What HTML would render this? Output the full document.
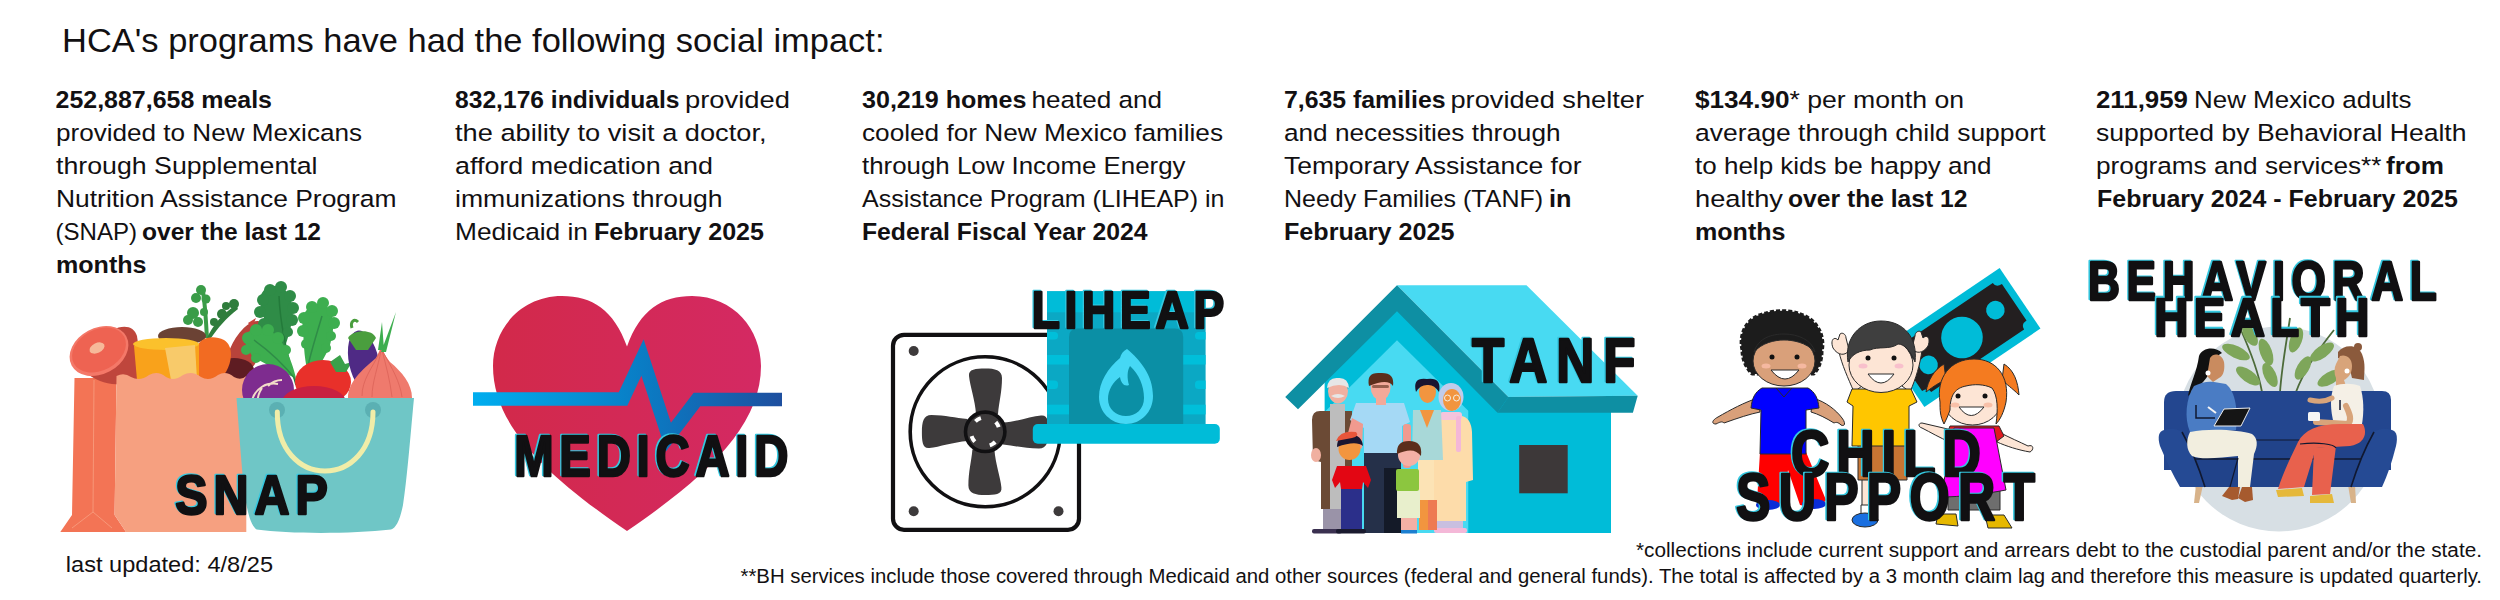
<!DOCTYPE html>
<html><head><meta charset="utf-8">
<style>
html,body{margin:0;padding:0;background:#fff;}
body{width:2500px;height:600px;overflow:hidden;position:relative;}
svg{position:absolute;left:0;top:0;display:block;}
text{font-family:"Liberation Sans",sans-serif;}
</style></head><body>
<svg width="2500" height="600" viewBox="0 0 2500 600">
<rect width="2500" height="600" fill="#fff"/>
<text x="62.0" y="52.0" font-size="33.5" font-weight="normal" textLength="822.5" lengthAdjust="spacingAndGlyphs" fill="#121012" >HCA's programs have had the following social impact:</text>
<text x="55.5" y="107.5" font-size="24.5" font-weight="bold" textLength="216.5" lengthAdjust="spacingAndGlyphs" fill="#121012" >252,887,658 meals</text>
<text x="56.0" y="140.5" font-size="24.5" font-weight="normal" textLength="306.0" lengthAdjust="spacingAndGlyphs" fill="#121012" >provided to New Mexicans</text>
<text x="56.0" y="173.5" font-size="24.5" font-weight="normal" textLength="261.5" lengthAdjust="spacingAndGlyphs" fill="#121012" >through Supplemental</text>
<text x="56.0" y="206.5" font-size="24.5" font-weight="normal" textLength="340.5" lengthAdjust="spacingAndGlyphs" fill="#121012" >Nutrition Assistance Program</text>
<text x="55.5" y="239.5" font-size="24.5" font-weight="normal" textLength="81.5" lengthAdjust="spacingAndGlyphs" fill="#121012" >(SNAP)</text>
<text x="142.0" y="239.5" font-size="24.5" font-weight="bold" textLength="179.0" lengthAdjust="spacingAndGlyphs" fill="#121012" >over the last 12</text>
<text x="56.0" y="272.5" font-size="24.5" font-weight="bold" textLength="90.5" lengthAdjust="spacingAndGlyphs" fill="#121012" >months</text>
<text x="455.0" y="107.5" font-size="24.5" font-weight="bold" textLength="224.5" lengthAdjust="spacingAndGlyphs" fill="#121012" >832,176 individuals</text>
<text x="685.0" y="107.5" font-size="24.5" font-weight="normal" textLength="105.0" lengthAdjust="spacingAndGlyphs" fill="#121012" >provided</text>
<text x="455.0" y="140.5" font-size="24.5" font-weight="normal" textLength="311.5" lengthAdjust="spacingAndGlyphs" fill="#121012" >the ability to visit a doctor,</text>
<text x="455.0" y="173.5" font-size="24.5" font-weight="normal" textLength="258.0" lengthAdjust="spacingAndGlyphs" fill="#121012" >afford medication and</text>
<text x="455.0" y="206.5" font-size="24.5" font-weight="normal" textLength="267.5" lengthAdjust="spacingAndGlyphs" fill="#121012" >immunizations through</text>
<text x="455.0" y="239.5" font-size="24.5" font-weight="normal" textLength="133.0" lengthAdjust="spacingAndGlyphs" fill="#121012" >Medicaid in</text>
<text x="594.0" y="239.5" font-size="24.5" font-weight="bold" textLength="170.0" lengthAdjust="spacingAndGlyphs" fill="#121012" >February 2025</text>
<text x="862.0" y="107.5" font-size="24.5" font-weight="bold" textLength="164.5" lengthAdjust="spacingAndGlyphs" fill="#121012" >30,219 homes</text>
<text x="1031.5" y="107.5" font-size="24.5" font-weight="normal" textLength="130.5" lengthAdjust="spacingAndGlyphs" fill="#121012" >heated and</text>
<text x="862.0" y="140.5" font-size="24.5" font-weight="normal" textLength="361.0" lengthAdjust="spacingAndGlyphs" fill="#121012" >cooled for New Mexico families</text>
<text x="862.0" y="173.5" font-size="24.5" font-weight="normal" textLength="323.5" lengthAdjust="spacingAndGlyphs" fill="#121012" >through Low Income Energy</text>
<text x="862.0" y="206.5" font-size="24.5" font-weight="normal" textLength="362.5" lengthAdjust="spacingAndGlyphs" fill="#121012" >Assistance Program (LIHEAP) in</text>
<text x="862.0" y="239.5" font-size="24.5" font-weight="bold" textLength="285.5" lengthAdjust="spacingAndGlyphs" fill="#121012" >Federal Fiscal Year 2024</text>
<text x="1284.0" y="107.5" font-size="24.5" font-weight="bold" textLength="161.5" lengthAdjust="spacingAndGlyphs" fill="#121012" >7,635 families</text>
<text x="1450.5" y="107.5" font-size="24.5" font-weight="normal" textLength="193.5" lengthAdjust="spacingAndGlyphs" fill="#121012" >provided shelter</text>
<text x="1284.0" y="140.5" font-size="24.5" font-weight="normal" textLength="276.5" lengthAdjust="spacingAndGlyphs" fill="#121012" >and necessities through</text>
<text x="1284.0" y="173.5" font-size="24.5" font-weight="normal" textLength="297.5" lengthAdjust="spacingAndGlyphs" fill="#121012" >Temporary Assistance for</text>
<text x="1284.0" y="206.5" font-size="24.5" font-weight="normal" textLength="259.0" lengthAdjust="spacingAndGlyphs" fill="#121012" >Needy Families (TANF)</text>
<text x="1549.0" y="206.5" font-size="24.5" font-weight="bold" textLength="22.5" lengthAdjust="spacingAndGlyphs" fill="#121012" >in</text>
<text x="1284.0" y="239.5" font-size="24.5" font-weight="bold" textLength="170.5" lengthAdjust="spacingAndGlyphs" fill="#121012" >February 2025</text>
<text x="1695.0" y="107.5" font-size="24.5" font-weight="bold" textLength="94.5" lengthAdjust="spacingAndGlyphs" fill="#121012" >$134.90</text>
<text x="1789.5" y="107.5" font-size="24.5" font-weight="normal" textLength="174.5" lengthAdjust="spacingAndGlyphs" fill="#121012" >* per month on</text>
<text x="1695.0" y="140.5" font-size="24.5" font-weight="normal" textLength="350.5" lengthAdjust="spacingAndGlyphs" fill="#121012" >average through child support</text>
<text x="1695.0" y="173.5" font-size="24.5" font-weight="normal" textLength="296.5" lengthAdjust="spacingAndGlyphs" fill="#121012" >to help kids be happy and</text>
<text x="1695.0" y="206.5" font-size="24.5" font-weight="normal" textLength="88.0" lengthAdjust="spacingAndGlyphs" fill="#121012" >healthy</text>
<text x="1788.0" y="206.5" font-size="24.5" font-weight="bold" textLength="179.5" lengthAdjust="spacingAndGlyphs" fill="#121012" >over the last 12</text>
<text x="1695.0" y="239.5" font-size="24.5" font-weight="bold" textLength="90.5" lengthAdjust="spacingAndGlyphs" fill="#121012" >months</text>
<text x="2096.0" y="107.5" font-size="24.5" font-weight="bold" textLength="92.0" lengthAdjust="spacingAndGlyphs" fill="#121012" >211,959</text>
<text x="2194.0" y="107.5" font-size="24.5" font-weight="normal" textLength="217.5" lengthAdjust="spacingAndGlyphs" fill="#121012" >New Mexico adults</text>
<text x="2096.0" y="140.5" font-size="24.5" font-weight="normal" textLength="370.5" lengthAdjust="spacingAndGlyphs" fill="#121012" >supported by Behavioral Health</text>
<text x="2096.0" y="173.5" font-size="24.5" font-weight="normal" textLength="285.5" lengthAdjust="spacingAndGlyphs" fill="#121012" >programs and services**</text>
<text x="2386.0" y="173.5" font-size="24.5" font-weight="bold" textLength="58.0" lengthAdjust="spacingAndGlyphs" fill="#121012" >from</text>
<text x="2097.0" y="206.5" font-size="24.5" font-weight="bold" textLength="361.0" lengthAdjust="spacingAndGlyphs" fill="#121012" >February 2024 - February 2025</text>
<text x="65.8" y="572.0" font-size="22" font-weight="normal" textLength="207.2" lengthAdjust="spacingAndGlyphs" fill="#121012" >last updated: 4/8/25</text>
<text x="1636.0" y="556.8" font-size="19.5" font-weight="normal" textLength="846.0" lengthAdjust="spacingAndGlyphs" fill="#121012" >*collections include current support and arrears debt to the custodial parent and/or the state.</text>
<text x="740.5" y="583.0" font-size="19.5" font-weight="normal" textLength="1741.5" lengthAdjust="spacingAndGlyphs" fill="#121012" >**BH services include those covered through Medicaid and other sources (federal and general funds). The total is affected by a 3 month claim lag and therefore this measure is updated quarterly.</text>

<g id="snap">
  <!-- bag side -->
  <path d="M74.5,378 L116.5,378 L114.6,515 L126,532 L60.3,532 L72,515 Z" fill="#f37455"/>
  <path d="M94,380 L93,512 L72,528 M93,512 L112,528" stroke="#f8a082" stroke-width="0.8" fill="none"/>
  <!-- ham -->
  <path d="M112,330 C124,324 134,326 137,336 L142,372 C140,382 128,386 112,384 C100,382 92,378 86,372 Z" fill="#bf463c"/>
  <ellipse cx="99" cy="351" rx="31" ry="23" transform="rotate(-28 99 351)" fill="#f47868"/>
  <ellipse cx="99" cy="350" rx="28.5" ry="20.5" transform="rotate(-28 99 350)" fill="#ee6352"/>
  <ellipse cx="97" cy="348" rx="8" ry="5" transform="rotate(-25 97 348)" fill="#f6b99a"/>
  <!-- carrot leaves -->
  <g fill="#3a9c48">
    <path d="M205,338 C204,320 203,305 201,292 L205,291 C207,305 208,320 209,338 Z"/>
    <circle cx="201" cy="290" r="5"/><circle cx="196" cy="298" r="5"/><circle cx="206" cy="299" r="4.5"/>
    <circle cx="193" cy="313" r="6"/><circle cx="188" cy="320" r="5"/><circle cx="198" cy="322" r="5"/>
    <circle cx="204" cy="312" r="4"/>
  </g>
  <g fill="#2f7d3c">
    <path d="M207,338 C213,325 222,314 236,305 L238,309 C226,318 218,328 211,338 Z"/>
    <circle cx="234" cy="304" r="5"/><circle cx="226" cy="306" r="4"/><circle cx="222" cy="314" r="5"/><circle cx="214" cy="322" r="4"/>
  </g>
  <!-- sweet potato dark -->
  <ellipse cx="182" cy="336" rx="24" ry="9" fill="#6b4234"/>
  <!-- red sweet potato right -->
  <ellipse cx="246" cy="350" rx="15" ry="32" transform="rotate(28 246 350)" fill="#b8433b"/>
  <path d="M248,323 L256,318 L252,328 Z" fill="#c8413a"/>
  <ellipse cx="234" cy="370" rx="20" ry="12" fill="#5e1c22"/>
  <!-- carrot -->
  <path d="M196,350 C198,338 212,334 224,340 C234,346 232,362 226,372 L214,385 L196,380 C193,368 194,358 196,350 Z" fill="#f26b22"/>
  <!-- cheese -->
  <path d="M134,346 C150,338 185,336 199,344 L199,380 L137,380 Z" fill="#f9a21b"/>
  <ellipse cx="166" cy="344" rx="33" ry="6" fill="#fbc12c"/>
  <path d="M165,348 L195,345 L197,380 L171,380 Z" fill="#f8ca6a"/>
  <!-- bag front with wavy top -->
  <path d="M116.5,376 Q124,372 131,377 Q140,382 149,375 Q158,370 166,377 Q174,382 183,375 Q192,370 201,377 Q209,382 218,375 Q226,370 234,377 Q241,381 246.3,376 L246.3,532 L126,532 L114.6,515 Z" fill="#f6a080"/>
  <!-- basket leaves -->
  <g>
    <path d="M262,310 C255,290 270,283 280,287 C292,292 296,310 290,330 C286,345 282,355 279,365 C272,345 266,328 262,310 Z" fill="#2f8c47"/>
    <path d="M279,296 C280,320 284,345 296,385" stroke="#237a3a" stroke-width="1.5" fill="none"/>
    <path d="M303,330 C300,310 312,302 322,304 C334,308 336,325 330,345 C325,358 318,368 310,380 C304,362 304,345 303,330 Z" fill="#3dae4f"/>
    <path d="M322,316 C315,340 308,360 304,385" stroke="#2f8c47" stroke-width="1.5" fill="none"/>
    <path d="M246,345 C240,332 255,325 268,330 C282,336 290,355 296,378 C280,372 262,362 252,356 Z" fill="#3dae4f"/>
    <path d="M254,340 C268,350 282,362 296,380" stroke="#2f8c47" stroke-width="1.5" fill="none"/>
  </g>
  <g fill="#2f8c47">
    <circle cx="263" cy="300" r="6"/><circle cx="260" cy="312" r="6"/><circle cx="264" cy="324" r="6"/><circle cx="270" cy="290" r="6"/><circle cx="281" cy="287" r="6"/><circle cx="290" cy="296" r="6"/><circle cx="293" cy="308" r="6"/><circle cx="292" cy="320" r="6"/><circle cx="288" cy="332" r="5"/>
  </g>
  <g fill="#3dae4f">
    <circle cx="304" cy="318" r="6"/><circle cx="303" cy="331" r="6"/><circle cx="306" cy="344" r="5"/><circle cx="312" cy="307" r="6"/><circle cx="323" cy="303" r="6"/><circle cx="332" cy="311" r="6"/><circle cx="334" cy="323" r="6"/><circle cx="331" cy="336" r="5"/><circle cx="326" cy="348" r="5"/>
    <circle cx="248" cy="338" r="6"/><circle cx="256" cy="330" r="6"/><circle cx="268" cy="330" r="6"/><circle cx="278" cy="338" r="6"/><circle cx="286" cy="350" r="5"/><circle cx="246" cy="350" r="5"/><circle cx="256" cy="358" r="5"/>
  </g>
  <!-- cabbage -->
  <circle cx="268" cy="390" r="26" fill="#7e2c8f"/>
  <path d="M252,400 C256,388 266,382 278,384 M262,388 C258,394 257,400 258,405 M268,386 C272,382 276,380 282,380" stroke="#f2dcc8" stroke-width="2" fill="none"/>
  <!-- tomato -->
  <ellipse cx="323" cy="382" rx="28" ry="22" fill="#e8302a"/>
  <path d="M330,362 L340,355 L345,364 L352,362 L346,372 L336,372 Z" fill="#3aa04a"/>
  <!-- eggplant -->
  <ellipse cx="364" cy="362" rx="15" ry="32" transform="rotate(-12 364 362)" fill="#4f2a85"/>
  <path d="M348,338 C352,330 372,328 376,338 L368,350 L356,350 Z" fill="#4a9e3e"/>
  <path d="M352,328 C350,322 354,318 358,322" stroke="#4a9e3e" stroke-width="3" fill="none"/>
  <!-- beet -->
  <ellipse cx="314" cy="402" rx="32" ry="16" fill="#c91f40"/>
  <!-- onion -->
  <path d="M348,398 C348,382 362,370 376,358 C378,354 380,350 381,346 C383,352 386,357 390,362 C402,372 412,384 412,398 Z" fill="#ef7a6d"/>
  <path d="M362,396 C362,380 372,368 380,352 M372,397 C372,382 378,368 381,350 M392,397 C390,380 386,366 382,350 M402,397 C400,382 392,368 383,352" stroke="#e0675c" stroke-width="1" fill="none"/>
  <path d="M378,350 L382,322 L384,350 Z M381,352 L396,312 L386,352 Z" fill="#3dae4f"/>
  <!-- basket -->
  <path d="M236.5,398 L414,398 C410,440 407,480 403,505 C400,520 396,528 391,529.5 C350,534 290,534 256.7,529.5 C250,525 247,510 244,490 C241,460 239,430 236.5,398 Z" fill="#6fc6c6"/>
  <circle cx="277" cy="410" r="8" fill="#5bb0b3"/>
  <circle cx="373" cy="410" r="8" fill="#5bb0b3"/>
  <path d="M277.3,412 C277,450 300,471 325,471 C350,471 373,450 373,412" stroke="#f0eda8" stroke-width="5" fill="none" stroke-linecap="round"/>
</g>
<g id="medicaid">
  <defs>
    <linearGradient id="hg" x1="0" x2="1" y1="0" y2="0">
      <stop offset="0" stop-color="#d2294a"/><stop offset="1" stop-color="#d42963"/>
    </linearGradient>
    <linearGradient id="pg" x1="473" x2="782" y1="0" y2="0" gradientUnits="userSpaceOnUse">
      <stop offset="0" stop-color="#00aeef"/><stop offset="0.55" stop-color="#0a7cc4"/><stop offset="1" stop-color="#1e4f9f"/>
    </linearGradient>
  </defs>
  <path d="M627,346.5 C614,310 592,296 562,296 C520,296 493,330 493,366 C493,425 545,475 627,531 C709,475 761,425 761,366 C761,330 734,296 692,296 C662,296 640,310 627,346.5 Z" fill="url(#hg)"/>
  <path d="M473,399 L623,399 L642.5,357.5 L668.5,437 L697,399.5 L782,399.5" stroke="url(#pg)" stroke-width="13.5" fill="none" stroke-linejoin="miter" stroke-miterlimit="10"/>
</g>
<g id="liheap">
  <rect x="893" y="334.8" width="186" height="195" rx="11" fill="#fff" stroke="#111012" stroke-width="4.2"/>
  <circle cx="985.2" cy="431.8" r="75" fill="none" stroke="#111012" stroke-width="3.6"/>
  <g fill="#3d3a3b">
    <circle cx="913.7" cy="351" r="5"/><circle cx="913.7" cy="511.3" r="5"/><circle cx="1058.5" cy="511.3" r="5"/><circle cx="1058.5" cy="351" r="5"/>
  </g>
  <g fill="#3d3a3b">
    <path d="M976,414 C975,400 970,386 969,376 C968,369 976,368.5 985,368.5 C995,368.5 1002,370 1002,378 C1002,392 999,402 998,414 Z"/>
    <path d="M976,414 C975,400 970,386 969,376 C968,369 976,368.5 985,368.5 C995,368.5 1002,370 1002,378 C1002,392 999,402 998,414 Z" transform="rotate(90 985.2 431.8)"/>
    <path d="M976,414 C975,400 970,386 969,376 C968,369 976,368.5 985,368.5 C995,368.5 1002,370 1002,378 C1002,392 999,402 998,414 Z" transform="rotate(180 985.2 431.8)"/>
    <path d="M976,414 C975,400 970,386 969,376 C968,369 976,368.5 985,368.5 C995,368.5 1002,370 1002,378 C1002,392 999,402 998,414 Z" transform="rotate(270 985.2 431.8)"/>
  </g>
  <circle cx="985.2" cy="431.8" r="19.7" fill="#3d3a3b" stroke="#111012" stroke-width="3.6"/>
  <circle cx="985.2" cy="431.8" r="14.3" fill="none" stroke="#fff" stroke-width="4" stroke-dasharray="6.5 15.96" stroke-dashoffset="3.25" transform="rotate(-32 985.2 431.8)"/>
  <!-- fireplace -->
  <rect x="1047" y="291.3" width="158.6" height="134" fill="#0ba8c4"/>
  <rect x="1047" y="291.3" width="158.6" height="21" fill="#00bcd8"/>
  <clipPath id="fpc"><rect x="1047" y="291.3" width="158.6" height="134"/></clipPath>
  <g fill="#00bfda" clip-path="url(#fpc)">
    <rect x="1040" y="332" width="18" height="7.5" rx="3.5"/><rect x="1047" y="355" width="22" height="9.5"/><rect x="1040" y="380.5" width="18" height="8.5" rx="3.5"/><rect x="1047" y="404.7" width="22" height="9.7"/>
    <rect x="1195" y="332" width="18" height="7.5" rx="3.5"/><rect x="1183" y="355" width="23.6" height="9.5"/><rect x="1195" y="380.5" width="18" height="8.5" rx="3.5"/><rect x="1183" y="404.7" width="23.6" height="9.7"/>
  </g>
  <path d="M1069,425 L1069,337 Q1069,328.5 1077.5,328.5 L1174.7,328.5 Q1183.2,328.5 1183.2,337 L1183.2,425 Z" fill="#0b8fa5"/>
  <path d="M1127,349 C1140,360 1153,375 1153,396 C1153,412 1141,424 1126,424 C1111,424 1099,412 1099,397 C1099,382 1108,368 1120,358 C1121,354 1123,351 1127,349 Z" fill="#45d8f5"/>
  <path d="M1126,416 C1116,416 1108,409 1108,399 C1108,390 1113,382 1120,377 C1121,383 1124,387 1129,385 C1127,378 1127,371 1130,366 C1139,374 1144,386 1144,398 C1144,409 1136,416 1126,416 Z" fill="#0b8fa5"/>
  <rect x="1032.8" y="424" width="187" height="19.8" rx="5" fill="#00bcd8"/>
</g>
<g id="tanf">
  <!-- gable wall -->
  <polygon points="1397,306 1503,412 1503,533 1324.6,533 1324.6,378.4" fill="#00bcd8"/>
  <polygon points="1397,340.3 1468.5,411 1468.5,533 1324.6,533 1324.6,412" fill="#48daf2"/>
  <!-- right wall -->
  <rect x="1468.5" y="397" width="142.5" height="136" fill="#00bcd8"/>
  <rect x="1519.2" y="445" width="48.5" height="48.3" fill="#3d3839"/>
  <!-- roof top face -->
  <polygon points="1397,285.2 1526.5,285.2 1637.7,395.8 1508.4,397" fill="#48daf2"/>
  <polygon points="1508.4,397 1637.7,395.8 1632.9,412.7 1497.5,412.7" fill="#0e8fa3"/>
  <polygon points="1285.2,397 1397,285.2 1508.4,397 1497.5,412.7 1397,311.3 1298,409.2" fill="#0e8fa3"/>
  <!-- people -->
  <!-- grandpa -->
  <rect x="1323" y="505" width="19" height="26" fill="#9a93a8"/>
  <path d="M1320,411 L1352,411 L1352,509 L1321,509 L1321,462 L1313,460 L1312,420 Q1312,411 1320,411 Z" fill="#6b4a35"/>
  <ellipse cx="1316" cy="455" rx="5" ry="7" fill="#f0b0a0"/>
  <rect x="1330" y="404" width="15" height="105" fill="#bdbdbd"/>
  <ellipse cx="1338" cy="391" rx="10" ry="12.5" fill="#f0b0a0"/>
  <path d="M1327,388 Q1328,377 1338,378 Q1348,377 1349,388 Q1340,382 1327,388 Z" fill="#e6e6e6"/>
  <path d="M1331,396 Q1338,392 1345,396 Q1338,400 1331,396 Z" fill="#e6e6e6"/>
  <rect x="1312" y="529" width="30" height="4.5" rx="2" fill="#3a3050"/>
  <!-- grandma -->
  <path d="M1440,416 L1462,416 Q1471,418 1472,432 L1473,480 L1466,482 L1466,521 L1432,521 L1432,482 L1428,480 L1430,432 Q1431,416 1440,416 Z" fill="#fddcaa"/>
  <rect x="1437" y="521" width="26" height="8" fill="#c9bfe0"/>
  <rect x="1434" y="528" width="33" height="5" rx="2" fill="#f4b8d8"/>
  <ellipse cx="1451" cy="397" rx="12.5" ry="14" fill="#c0cceb"/>
  <ellipse cx="1452" cy="400" rx="9" ry="11" fill="#f2953f"/>
  <circle cx="1447.5" cy="398" r="3" fill="none" stroke="#f4f0e6" stroke-width="1"/><circle cx="1456.5" cy="398" r="3" fill="none" stroke="#f4f0e6" stroke-width="1"/>
  <rect x="1440" y="412" width="22" height="8" rx="3" fill="#f4c4dc"/>
  <rect x="1456" y="416" width="5" height="36" rx="2" fill="#f4b8d8"/>
  <!-- mom -->
  <path d="M1413,410 L1441,410 L1443,460 L1412,460 Z" fill="#a8d8d8"/>
  <path d="M1420,410 L1427,428 L1434,410 Z" fill="#f2953f"/>
  <rect x="1418" y="460" width="16" height="42" fill="#fce3b5"/>
  <rect x="1419" y="500" width="9" height="30" fill="#f2953f"/><rect x="1428" y="500" width="9" height="30" fill="#ee7a52"/>
  <ellipse cx="1427.5" cy="392" rx="8.5" ry="11" fill="#f2953f"/>
  <path d="M1416,392 Q1412,377 1427,379 Q1442,377 1439,392 Q1434,384 1427,385 Q1420,385 1416,392 Z" fill="#1a1530"/>
  <!-- dad -->
  <rect x="1364" y="452" width="37" height="81" fill="#253049"/>
  <rect x="1384" y="468" width="17" height="65" fill="#141a28"/>
  <path d="M1356,403 L1404,403 L1410,422 L1402,426 L1402,453 L1364,453 L1364,428 L1350,420 Z" fill="#a5d9f5"/>
  <rect x="1403" y="424" width="8" height="44" rx="3" fill="#f09a8f"/>
  <path d="M1352,418 L1363,424 L1362,448 L1350,454 L1344,448 Z" fill="#f09a8f"/>
  <ellipse cx="1380.6" cy="387" rx="10" ry="13" fill="#f3a999"/>
  <rect x="1376" y="396" width="10" height="9" fill="#f3a999"/>
  <path d="M1369,386 Q1366,372 1380,373 Q1395,372 1393,386 Q1388,378 1369,386 Z" fill="#5c2e1b"/>
  <rect x="1372" y="385" width="17" height="3" rx="1.5" fill="#5c2e1b" opacity="0.6"/>
  <!-- boy -->
  <rect x="1341" y="488" width="21" height="43" fill="#2b2f8a"/>
  <path d="M1337,466 L1366,466 L1371,480 L1368,488 L1363,482 L1362,489 L1341,489 L1340,482 L1335,488 L1332,480 Z" fill="#e30613"/>
  <circle cx="1349.5" cy="449" r="11" fill="#f2953f"/>
  <path d="M1337,447 Q1337,434 1350,434 Q1362,435 1363,446 Q1356,440 1337,447 Z" fill="#1a1530"/>
  <path d="M1336,441 Q1340,430 1356,432 Q1360,436 1352,438 Z" fill="#e8553a"/>
  <rect x="1336" y="529" width="30" height="4.5" rx="2" fill="#1a1a2e"/>
  <!-- girl -->
  <rect x="1397" y="490" width="23" height="28" fill="#e8efcc"/>
  <rect x="1401" y="518" width="16" height="12" fill="#f4b0a5"/>
  <rect x="1396" y="469" width="23" height="22" rx="2" fill="#8cc63f"/>
  <circle cx="1409" cy="455" r="11" fill="#f4b0a5"/>
  <path d="M1397,454 Q1396,441 1409,441 Q1423,441 1421,456 Q1414,446 1397,454 Z" fill="#5c2e1b"/>
  <rect x="1401" y="530" width="16" height="3.5" fill="#1b7fd0"/>
</g>
<g id="child" stroke-linejoin="round">
  <!-- money bill -->
  <g transform="translate(1962 337.5) rotate(-34)">
    <rect x="-70" y="-36.5" width="140" height="73" fill="#00bcd8"/>
    <path d="M-62,-28 L56,-28 Q56,-22 63,-22 L63,22 Q56,22 56,28 L-56,28 Q-56,22 -63,22 L-63,-22 Q-56,-22 -62,-28 Z" fill="#231f20"/>
    <circle cx="0" cy="0" r="20.8" fill="#00bcd8"/>
    <circle cx="43" cy="-4" r="9.3" fill="#00bcd8"/>
    <circle cx="-43" cy="4" r="9.3" fill="#00bcd8"/>
  </g>
  <g stroke="#2a2a2a" stroke-width="1">
  <!-- boy 1 -->
  <path d="M1758,398 C1745,402 1730,410 1718,417 C1712,420 1711,424 1716,424 C1720,422 1722,421 1724,423 C1738,418 1750,414 1760,412 Z" fill="#d9a07a"/>
  <path d="M1813,398 C1826,402 1836,410 1842,418 C1846,423 1845,427 1841,425 C1838,422 1836,422 1834,423 C1826,418 1818,414 1811,412 Z" fill="#d9a07a"/>
  <path d="M1760,452 L1806,452 L1826,500 C1822,506 1810,508 1800,505 L1788,470 L1784,505 C1776,507 1764,506 1757,502 Z" fill="#ff0000" stroke="none"/>
  <ellipse cx="1768" cy="505" rx="12" ry="5" fill="#0a2dd8" stroke="none"/>
  <ellipse cx="1814" cy="504" rx="12" ry="5" fill="#0a2dd8" stroke="none"/>
  <path d="M1762,388 L1808,388 C1815,392 1818,398 1819,408 L1806,410 L1806,454 L1760,454 L1761,410 L1751,408 C1752,398 1755,392 1762,388 Z" fill="#0000ff"/>
  <path d="M1776,388 L1784,397 L1792,388" fill="none"/>
  <path d="M1742,350 C1738,332 1748,316 1766,313 C1774,310 1790,310 1798,313 C1816,318 1826,334 1822,352 C1822,362 1818,370 1814,374 L1752,374 C1746,368 1742,360 1742,350 Z" fill="#1c1c1c" stroke="#1c1c1c" stroke-width="3" stroke-dasharray="4 2"/>
  <ellipse cx="1784" cy="361" rx="31" ry="25" fill="#d9a07a"/>
  <path d="M1754,352 C1758,338 1772,334 1784,334 C1798,334 1812,340 1815,352 C1806,342 1792,340 1784,340 C1774,340 1762,343 1754,352 Z" fill="#1c1c1c"/>
  <circle cx="1772" cy="357" r="2.5" fill="#111" stroke="none"/><circle cx="1797" cy="357" r="2.5" fill="#111" stroke="none"/>
  <ellipse cx="1766" cy="366" rx="4.5" ry="2.5" fill="#f5b8a0" stroke="none"/><ellipse cx="1802" cy="366" rx="4.5" ry="2.5" fill="#f5b8a0" stroke="none"/>
  <path d="M1771,370 Q1785,388 1799,370 Z" fill="#fff"/>
  <!-- boy 2 -->
  <path d="M1854,392 C1848,378 1842,365 1839,352 L1847,350 C1850,362 1856,374 1862,386 Z" fill="#fde5d5"/>
  <path d="M1910,392 C1916,378 1920,365 1922,350 L1914,349 C1912,362 1908,374 1902,386 Z" fill="#fde5d5"/>
  <path d="M1833,348 C1830,340 1834,336 1838,340 L1840,334 C1842,332 1846,334 1846,338 L1849,350 C1846,356 1838,356 1833,348 Z" fill="#fde5d5"/>
  <path d="M1928,346 C1931,338 1927,334 1923,338 L1921,332 C1919,330 1915,332 1915,336 L1912,348 C1915,354 1923,354 1928,346 Z" fill="#fde5d5"/>
  <rect x="1862" y="478" width="14" height="30" fill="#fde5d5"/>
  <rect x="1861" y="505" width="16" height="10" fill="#fff"/>
  <ellipse cx="1865" cy="520" rx="13" ry="7" fill="#1a6fe0"/>
  <path d="M1858,445 L1907,445 L1907,480 L1858,480 Z" fill="#c87533"/>
  <path d="M1852,389 L1911,389 L1917,402 L1909,406 L1909,446 L1852,446 L1853,406 L1847,402 Z" fill="#ffc600"/>
  <ellipse cx="1881" cy="365" rx="32" ry="27.5" fill="#fde5d5"/>
  <path d="M1848,362 C1844,338 1860,321 1881,321 C1904,321 1918,338 1915,362 C1910,350 1904,344 1898,344 C1890,350 1878,346 1870,350 C1860,350 1852,354 1848,362 Z" fill="#3f3f3f"/>
  <circle cx="1868" cy="358" r="2.5" fill="#111" stroke="none"/><circle cx="1894" cy="358" r="2.5" fill="#111" stroke="none"/>
  <ellipse cx="1863" cy="366" rx="4.5" ry="2.5" fill="#f8c0cc" stroke="none"/><ellipse cx="1899" cy="366" rx="4.5" ry="2.5" fill="#f8c0cc" stroke="none"/>
  <path d="M1868,374 Q1881,392 1894,374 Z" fill="#fff"/>
  <!-- girl -->
  <path d="M1952,430 C1942,428 1932,425 1922,423 C1918,423 1918,427 1922,428 C1930,432 1940,438 1950,442 Z" fill="#fde5d5"/>
  <path d="M1999,432 C2010,438 2020,442 2028,446 C2034,444 2034,450 2030,452 C2018,450 2006,446 1997,442 Z" fill="#fde5d5"/>
  <rect x="1948" y="488" width="52" height="22" fill="#6e6e6e"/>
  <path d="M1938,514 L1956,514 L1958,526 L1936,524 Z" fill="#e6b800"/>
  <path d="M1985,515 L2004,515 L2012,528 L1988,528 Z" fill="#e6b800"/>
  <path d="M1950,426 L1999,426 L2004,436 L1996,442 L1954,442 L1946,436 Z" fill="#e0191f"/>
  <path d="M1954,428 L1994,428 L2006,490 C1985,494 1960,497 1941,497 Z" fill="#ff00ff"/>
  <path d="M1944,364 C1934,370 1928,380 1926,392 C1934,386 1940,382 1946,380 Z" fill="#f47b20"/>
  <path d="M2004,364 C2014,370 2018,382 2019,395 C2012,388 2006,384 2002,380 Z" fill="#f47b20"/>
  <ellipse cx="1972.5" cy="400" rx="29" ry="25" fill="#fde5d5"/>
  <path d="M1940,402 C1936,378 1950,359 1974,359 C1996,359 2010,376 2006,402 C2004,412 2000,420 1996,424 C1998,410 1998,396 1992,388 C1984,384 1974,384 1966,386 C1956,388 1950,394 1950,410 C1948,416 1946,420 1944,424 C1940,416 1940,410 1940,402 Z" fill="#f47b20"/>
  <circle cx="1958" cy="396" r="2.5" fill="#111" stroke="none"/><circle cx="1985" cy="396" r="2.5" fill="#111" stroke="none"/>
  <ellipse cx="1955" cy="405" rx="4.5" ry="2.5" fill="#f8c0a8" stroke="none"/><ellipse cx="1988" cy="405" rx="4.5" ry="2.5" fill="#f8c0a8" stroke="none"/>
  <path d="M1959,407 Q1971,424 1984,407 Z" fill="#fff"/>
  </g>
</g>
<g id="bh">
  <circle cx="2279" cy="429" r="102.5" fill="#d7dfe4"/>
  <!-- plant -->
  <g stroke="#4d6b3a" stroke-width="1.8" fill="none">
    <path d="M2262,392 C2258,370 2250,350 2240,328"/>
    <path d="M2280,392 C2282,365 2286,345 2290,318"/>
    <path d="M2296,392 C2304,370 2318,350 2334,330"/>
  </g>
  <g fill="#7ea65a">
    <ellipse cx="2236" cy="352" rx="15" ry="6" transform="rotate(25 2236 352)"/>
    <ellipse cx="2248" cy="376" rx="14" ry="6" transform="rotate(35 2248 376)"/>
    <ellipse cx="2266" cy="352" rx="6" ry="14" transform="rotate(-20 2266 352)"/>
    <ellipse cx="2270" cy="375" rx="6" ry="13" transform="rotate(-25 2270 375)"/>
    <ellipse cx="2296" cy="340" rx="6" ry="13" transform="rotate(20 2296 340)"/>
    <ellipse cx="2303" cy="368" rx="6" ry="13" transform="rotate(30 2303 368)"/>
    <ellipse cx="2322" cy="352" rx="14" ry="6" transform="rotate(-35 2322 352)"/>
    <ellipse cx="2330" cy="378" rx="14" ry="6" transform="rotate(-30 2330 378)"/>
    <ellipse cx="2250" cy="335" rx="6" ry="12" transform="rotate(-30 2250 335)"/>
  </g>
  <!-- sofa legs -->
  <path d="M2196,485 L2203,485 L2199,503 L2194,503 Z" fill="#d8b38a"/>
  <path d="M2348,485 L2355,485 L2356,503 L2351,503 Z" fill="#d8b38a"/>
  <!-- sofa back -->
  <path d="M2176,391 L2382,391 Q2391,391 2391,400 L2391,470 L2164,470 L2164,402 Q2164,391 2176,391 Z" fill="#23468f"/>
  <!-- seat -->
  <rect x="2185" y="440" width="182" height="47" fill="#21438a"/>
  <path d="M2185,459 L2367,459" stroke="#101830" stroke-width="1.6"/>
  <path d="M2190,440 L2362,440" stroke="#101830" stroke-width="1.2"/>
  <!-- left arm -->
  <path d="M2164,430 Q2178,426 2186,436 L2205,487 L2180,487 Q2170,470 2160,446 Q2156,432 2164,430 Z" fill="#254a94"/>
  <path d="M2182,432 Q2195,455 2205,487" stroke="#101830" stroke-width="1.6" fill="none"/>
  <!-- right arm -->
  <path d="M2392,430 Q2378,426 2370,436 L2350,487 L2382,487 Q2390,470 2396,446 Q2399,432 2392,430 Z" fill="#254a94"/>
  <path d="M2374,432 Q2361,455 2351,487" stroke="#101830" stroke-width="1.6" fill="none"/>
  <!-- woman 1 -->
  <path d="M2199,356 C2202,347 2216,346 2222,353 C2216,356 2212,362 2210,372 C2206,380 2198,388 2188,396 C2190,384 2197,372 2199,356 Z" fill="#111"/>
  <path d="M2210,358 C2214,352 2222,354 2224,362 C2225,368 2224,376 2219,378 L2213,382 L2207,376 Z" fill="#c98b5f"/>
  <circle cx="2208" cy="373" r="2.5" fill="#fff"/>
  <path d="M2194,386 C2202,382 2208,381 2214,382 L2226,384 C2236,392 2238,412 2236,430 L2190,432 C2184,418 2186,398 2194,386 Z" fill="#4a7cc4"/>
  <path d="M2196,405 L2196,418 L2215,418" stroke="#101830" stroke-width="1.5" fill="none"/>
  <path d="M2190,432 C2210,428 2240,430 2252,434 C2258,438 2258,446 2254,454 L2250,487 L2238,487 L2238,456 C2220,458 2200,460 2192,456 C2186,450 2186,440 2190,432 Z" fill="#f2eedf"/>
  <path d="M2238,458 L2230,487" stroke="#101830" stroke-width="1.2"/>
  <path d="M2229,487 L2240,487 L2238,499 L2232,500 L2222,496 Z" fill="#a65a2e"/>
  <path d="M2242,487 L2252,487 L2253,500 L2245,502 L2238,498 Z" fill="#a65a2e"/>
  <path d="M2214,426 L2224,409 L2250,408 L2241,426 Z" fill="#151515" stroke="#eee" stroke-width="1"/>
  <path d="M2208,407 L2216,413" stroke="#f5f5f5" stroke-width="2"/>
  <!-- woman 2 -->
  <path d="M2338,352 C2344,344 2358,344 2362,354 C2366,364 2364,372 2364,380 L2352,378 C2350,368 2346,360 2338,358 Z" fill="#8b5a3c"/>
  <circle cx="2358" cy="347" r="4" fill="#8b5a3c"/>
  <path d="M2340,356 C2346,354 2352,358 2352,366 C2352,374 2348,378 2344,380 L2346,386 L2336,386 L2336,378 C2334,374 2334,368 2336,364 Z" fill="#d8a47a"/>
  <circle cx="2347" cy="371" r="2.5" fill="#fff"/>
  <path d="M2334,386 C2342,383 2352,383 2360,386 C2364,398 2364,412 2362,424 L2334,424 C2330,410 2330,396 2334,386 Z" fill="#f5f0e6"/>
  <path d="M2340,400 L2340,410" stroke="#101830" stroke-width="1.5"/>
  <path d="M2346,406 C2350,414 2352,420 2348,424 L2316,422" stroke="#d8a47a" stroke-width="6" fill="none" stroke-linecap="round"/>
  <path d="M2332,398 C2325,402 2318,402 2310,400" stroke="#d8a47a" stroke-width="5" fill="none" stroke-linecap="round"/>
  <rect x="2308" y="412" width="12" height="9" rx="1.5" fill="#f5f5f5"/>
  <path d="M2363,424 C2368,434 2364,444 2350,446 L2316,448 L2304,487 L2278,489 C2284,470 2292,455 2298,442 C2304,430 2318,424 2340,424 Z" fill="#e8614d"/>
  <path d="M2336,446 L2330,494 L2312,495 L2314,448 Z" fill="#e8614d"/>
  <path d="M2300,444 C2318,442 2334,444 2336,448" stroke="#101830" stroke-width="1.2" fill="none"/>
  <path d="M2276,490 L2302,488 L2304,496 L2278,497 Z" fill="#e5b83a"/>
  <path d="M2310,496 L2332,494 L2334,503 L2310,503 Z" fill="#e5b83a"/>
</g>

<g transform="translate(173.90 512.90) scale(0.87 1)"><text x="0" y="0" font-size="55.67" font-weight="bold" textLength="175.4" lengthAdjust="spacing" fill="#35c8e0" stroke="#35c8e0" stroke-width="2.5" stroke-linejoin="round">SNAP</text></g>
<g transform="translate(175.30 514.00) scale(0.87 1)"><text x="0" y="0" font-size="55.67" font-weight="bold" textLength="175.4" lengthAdjust="spacing" fill="#111012" stroke="#111012" stroke-width="2.5" stroke-linejoin="round">SNAP</text></g>
<g transform="translate(512.80 475.10) scale(0.824 1)"><text x="0" y="0" font-size="57.41" font-weight="bold" textLength="332.77" lengthAdjust="spacing" fill="#35c8e0" stroke="#35c8e0" stroke-width="2.5" stroke-linejoin="round">MEDICAID</text></g>
<g transform="translate(514.20 476.20) scale(0.824 1)"><text x="0" y="0" font-size="57.41" font-weight="bold" textLength="332.77" lengthAdjust="spacing" fill="#111012" stroke="#111012" stroke-width="2.5" stroke-linejoin="round">MEDICAID</text></g>
<g transform="translate(1030.40 326.50) scale(0.885 1)"><text x="0" y="0" font-size="52.03" font-weight="bold" textLength="217.29" lengthAdjust="spacing" fill="#35c8e0" stroke="#35c8e0" stroke-width="2.5" stroke-linejoin="round">LIHEAP</text></g>
<g transform="translate(1031.80 327.60) scale(0.885 1)"><text x="0" y="0" font-size="52.03" font-weight="bold" textLength="217.29" lengthAdjust="spacing" fill="#111012" stroke="#111012" stroke-width="2.5" stroke-linejoin="round">LIHEAP</text></g>
<g transform="translate(1470.60 380.60) scale(0.846 1)"><text x="0" y="0" font-size="62.35" font-weight="bold" textLength="193.14" lengthAdjust="spacing" fill="#35c8e0" stroke="#35c8e0" stroke-width="2.5" stroke-linejoin="round">TANF</text></g>
<g transform="translate(1472.00 381.70) scale(0.846 1)"><text x="0" y="0" font-size="62.35" font-weight="bold" textLength="193.14" lengthAdjust="spacing" fill="#111012" stroke="#111012" stroke-width="2.5" stroke-linejoin="round">TANF</text></g>
<g transform="translate(1789.60 474.60) scale(0.81 1)"><text x="0" y="0" font-size="65.7" font-weight="bold" textLength="234.57" lengthAdjust="spacing" fill="#35c8e0" stroke="#35c8e0" stroke-width="2.5" stroke-linejoin="round">CHILD</text></g>
<g transform="translate(1791.00 475.70) scale(0.81 1)"><text x="0" y="0" font-size="65.7" font-weight="bold" textLength="234.57" lengthAdjust="spacing" fill="#111012" stroke="#111012" stroke-width="2.5" stroke-linejoin="round">CHILD</text></g>
<g transform="translate(1734.60 518.60) scale(0.77 1)"><text x="0" y="0" font-size="67.15" font-weight="bold" textLength="388.31" lengthAdjust="spacing" fill="#35c8e0" stroke="#35c8e0" stroke-width="2.5" stroke-linejoin="round">SUPPORT</text></g>
<g transform="translate(1736.00 519.70) scale(0.77 1)"><text x="0" y="0" font-size="67.15" font-weight="bold" textLength="388.31" lengthAdjust="spacing" fill="#111012" stroke="#111012" stroke-width="2.5" stroke-linejoin="round">SUPPORT</text></g>
<g transform="translate(2086.60 299.20) scale(0.8 1)"><text x="0" y="0" font-size="55.31" font-weight="bold" textLength="436.0" lengthAdjust="spacing" fill="#35c8e0" stroke="#35c8e0" stroke-width="2.5" stroke-linejoin="round">BEHAVIORAL</text></g>
<g transform="translate(2088.00 300.30) scale(0.8 1)"><text x="0" y="0" font-size="55.31" font-weight="bold" textLength="436.0" lengthAdjust="spacing" fill="#111012" stroke="#111012" stroke-width="2.5" stroke-linejoin="round">BEHAVIORAL</text></g>
<g transform="translate(2152.85 334.40) scale(0.894 1)"><text x="0" y="0" font-size="53.05" font-weight="bold" textLength="240.72" lengthAdjust="spacing" fill="#35c8e0" stroke="#35c8e0" stroke-width="2.5" stroke-linejoin="round">HEALTH</text></g>
<g transform="translate(2154.25 335.50) scale(0.894 1)"><text x="0" y="0" font-size="53.05" font-weight="bold" textLength="240.72" lengthAdjust="spacing" fill="#111012" stroke="#111012" stroke-width="2.5" stroke-linejoin="round">HEALTH</text></g>

</svg>
</body></html>
